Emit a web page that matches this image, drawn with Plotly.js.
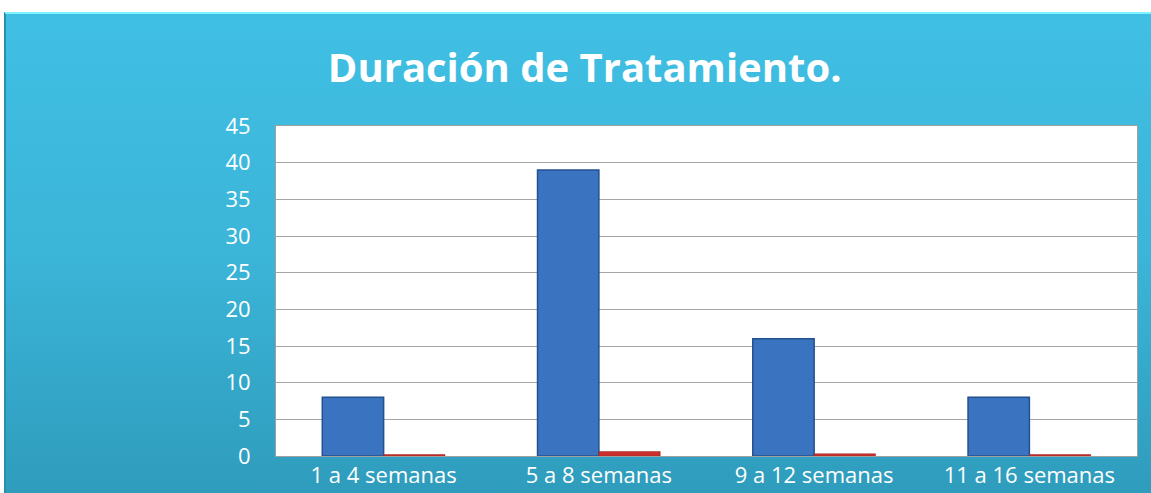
<!DOCTYPE html>
<html><head><meta charset="utf-8">
<script src="https://cdn.plot.ly/plotly-3.0.1.min.js"></script>
<style>
html,body{margin:0;padding:0;background:#fff;}
#wrap{position:absolute;left:4px;top:12px;width:1147px;height:481px;
background:linear-gradient(to bottom,#40bfe4 0%,#3bb5d8 50%,#2f9cbc 100%);
border-top:2px solid #7ff3ff;border-left:2px solid #2a8fae;box-sizing:border-box;}
#chart{position:absolute;left:0;top:0;width:1151px;height:493px;}
</style></head><body>
<div id="wrap"></div>
<div id="chart"></div>
<script>
const categories = ["1 a 4 semanas","5 a 8 semanas","9 a 12 semanas","11 a 16 semanas"];
const serie1 = [8, 39, 16, 8];
const serie2 = [0.2, 0.6, 0.3, 0.2];
const yTicks = [0,5,10,15,20,25,30,35,40,45];

const data = [
 {type:'bar', x:categories, y:serie1, name:'Serie 1',
  marker:{color:'#3a74c0', line:{color:'#23508e', width:1.5}}},
 {type:'bar', x:categories, y:serie2, name:'Serie 2',
  marker:{color:'#c9302c', line:{color:'#a02020', width:0.5}}}
];
const layout = {
 width:1151, height:493,
 paper_bgcolor:'rgba(0,0,0,0)', plot_bgcolor:'#ffffff',
 margin:{l:276, r:14, t:126, b:37},
 showlegend:false,
 barmode:'group', bargap:0.43, bargroupgap:0,
 title:{text:'<b>Duración de Tratamiento.</b>', x:0.508, xanchor:'center', y:0.862, yanchor:'middle',
   font:{family:'Open Sans, sans-serif', size:40, color:'#ffffff'}},
 xaxis:{tickfont:{family:'Open Sans, sans-serif', size:22, color:'#ffffff'},
   showline:true, linecolor:'#a0a0a0', linewidth:1, mirror:true, ticks:'', showgrid:false},
 yaxis:{range:[0,45], tickvals:yTicks, tickfont:{family:'Open Sans, sans-serif', size:22, color:'#ffffff'},
   showgrid:true, gridcolor:'#a6a6a6', gridwidth:1, showline:true, linecolor:'#a0a0a0', mirror:true,
   ticks:'outside', ticklen:20, tickcolor:'rgba(0,0,0,0)', zeroline:false, fixedrange:true}
};
Plotly.newPlot('chart', data, layout, {displayModeBar:false, staticPlot:true});
</script>
</body></html>
